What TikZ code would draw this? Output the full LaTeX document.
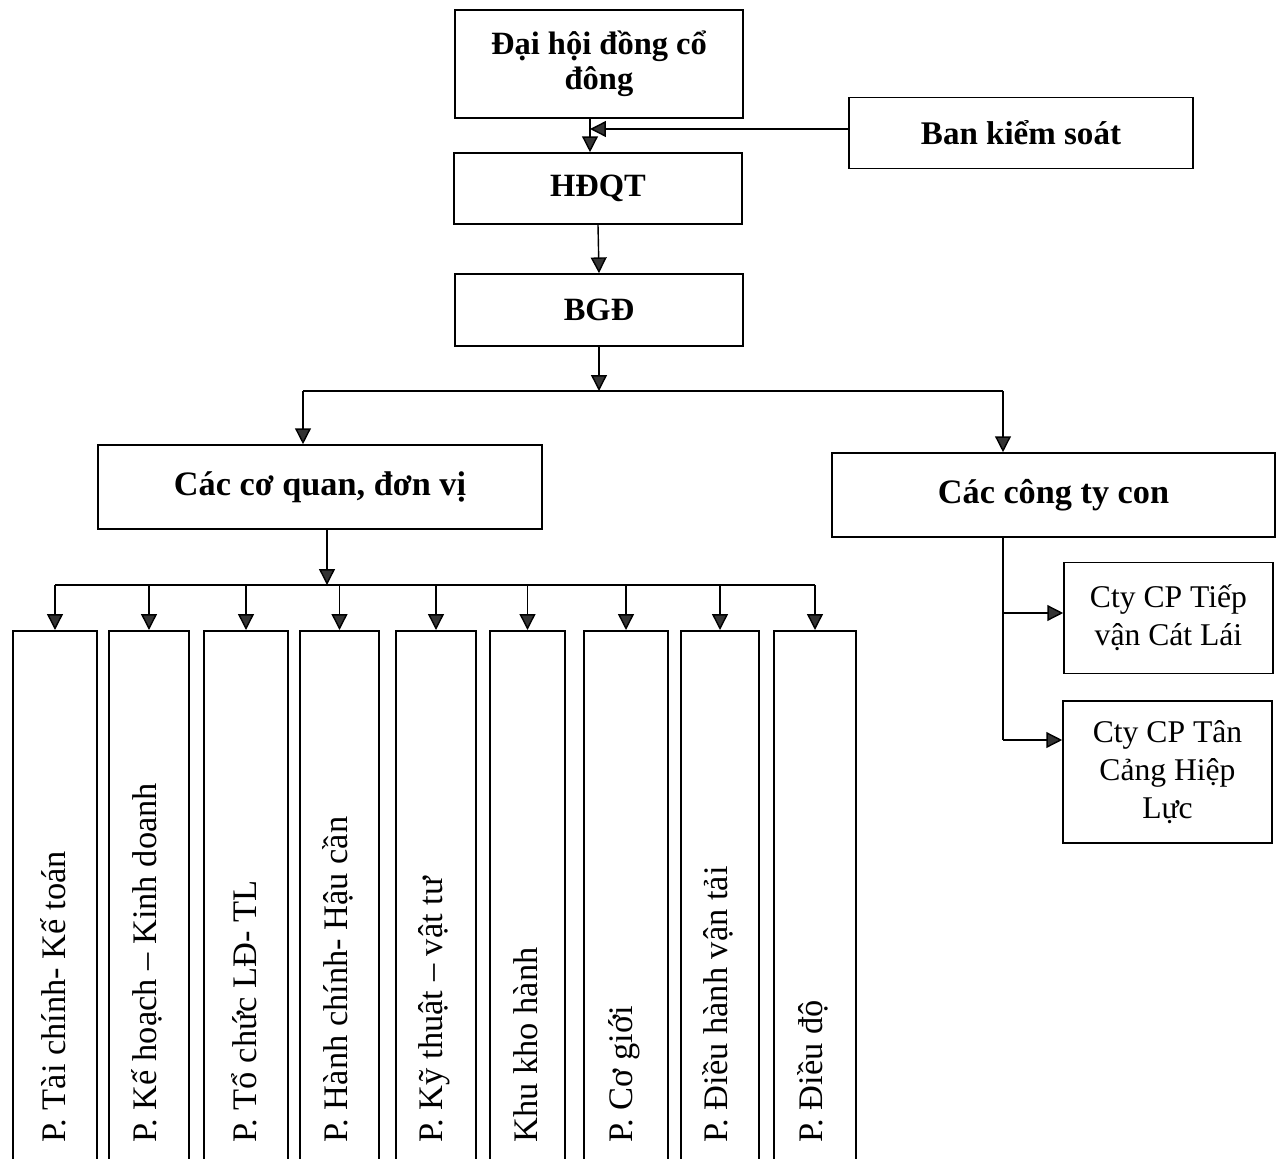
\documentclass[tikz,border=0pt]{standalone}
\usepackage{fontspec}
\setmainfont{Liberation Serif}
\usetikzlibrary{arrows.meta}

\begin{document}
\begin{tikzpicture}[x=0.02cm,y=-0.02cm,
  box/.style={draw,line width=0.9pt,inner sep=0pt,align=center},
  size/.style 2 args={minimum width=(#1)*0.02cm,minimum height=(#2)*0.02cm},
  head/.style={font=\bfseries\fontsize{18.5}{20}\selectfont},
  group/.style={font=\bfseries\fontsize{19.5}{22}\selectfont},
  sub/.style={font=\fontsize{18}{21.5}\selectfont},
  dept/.style={font=\fontsize{19.6}{22}\selectfont,inner sep=0pt},
  wire/.style={line width=0.8pt},
  arr/.style={wire,-{Triangle[length=9pt,width=9pt,fill=black!80]}}]
%
\useasboundingbox (0,0) rectangle (1279,1159);
%
\node[box,head,size={288}{108}] (dh) at (599,64) {Đại hội đồng cổ\\đông};
\node[box,font=\bfseries\fontsize{18.8}{22}\selectfont,size={344}{71}] (bks) at (1021,133) {Ban kiểm soát};
\node[box,head,size={288}{71}] (hdqt) at (598,188.5) {HĐQT};
\node[box,head,size={288}{72}] (bgd) at (599,310) {BGĐ};
\node[box,group,size={444}{84}] (coquan) at (320,487) {Các cơ quan, đơn vị};
\node[box,group,size={443}{84}] (congty) at (1053.5,495) {Các công ty con};
\node[box,sub,size={209}{111}] (cl) at (1168.5,618) {Cty CP Tiếp\\vận Cát Lái};
\node[box,sub,size={209}{142}] (hl) at (1167.5,772) {Cty CP Tân\\Cảng Hiệp\\Lực};
%
\foreach \n/\xa/\xb/\t in {p1/13/97/{P. Tài chính- Kế toán},
    p2/109/189/{P. Kế hoạch – Kinh doanh},
    p3/204/288/{P. Tổ chức LĐ- TL},
    p4/300/379/{P. Hành chính- Hậu cần},
    p5/396/476/{P. Kỹ thuật – vật tư},
    p6/490/565/{Khu kho hành},
    p7/584/668/{P. Cơ giới},
    p8/681/759/{P. Điều hành vận tải},
    p9/774/856/{P. Điều độ}}{
  \node[box,size={\xb-\xa}{560},anchor=north] (\n) at ({(\xa+\xb)/2},630) {};
  \node[dept,rotate=90,anchor=west] (\n l) at ({(\xa+\xb)/2-2},1143) {\t};
}
%
\coordinate (j1) at (590,129);
\coordinate (k1) at (303,391);
\coordinate (k2) at (1003,391);
\coordinate (br) at (327,585);
\coordinate (k4) at (1003,613);
\coordinate (k3) at (1003,740);
%
\draw[arr] (dh.south -| j1) -- (hdqt.north -| j1);
\draw[arr] (bks.west |- j1) -- (j1);
\draw[arr] (hdqt.south) -- (bgd.north);
\draw[arr] (bgd.south) -- (bgd.south |- k1);
\draw[wire] (k1) -- (k2);
\draw[arr] (k1) -- (k1 |- coquan.north);
\draw[arr] (k2) -- (k2 |- congty.north);
%
\draw[arr] (coquan.south -| br) -- (br);
\draw[wire] (p1.north |- br) -- (p9.north |- br);
\foreach \n in {p1,p2,p3,p4,p5,p6,p7,p8,p9}
  \draw[arr] (\n.north |- br) -- (\n.north);
%
\draw[wire] (congty.south -| k3) -- (k3);
\draw[arr] (k4) -- (k4 -| cl.west);
\draw[arr] (k3) -- (k3 -| hl.west);
%
\end{tikzpicture}
\end{document}
